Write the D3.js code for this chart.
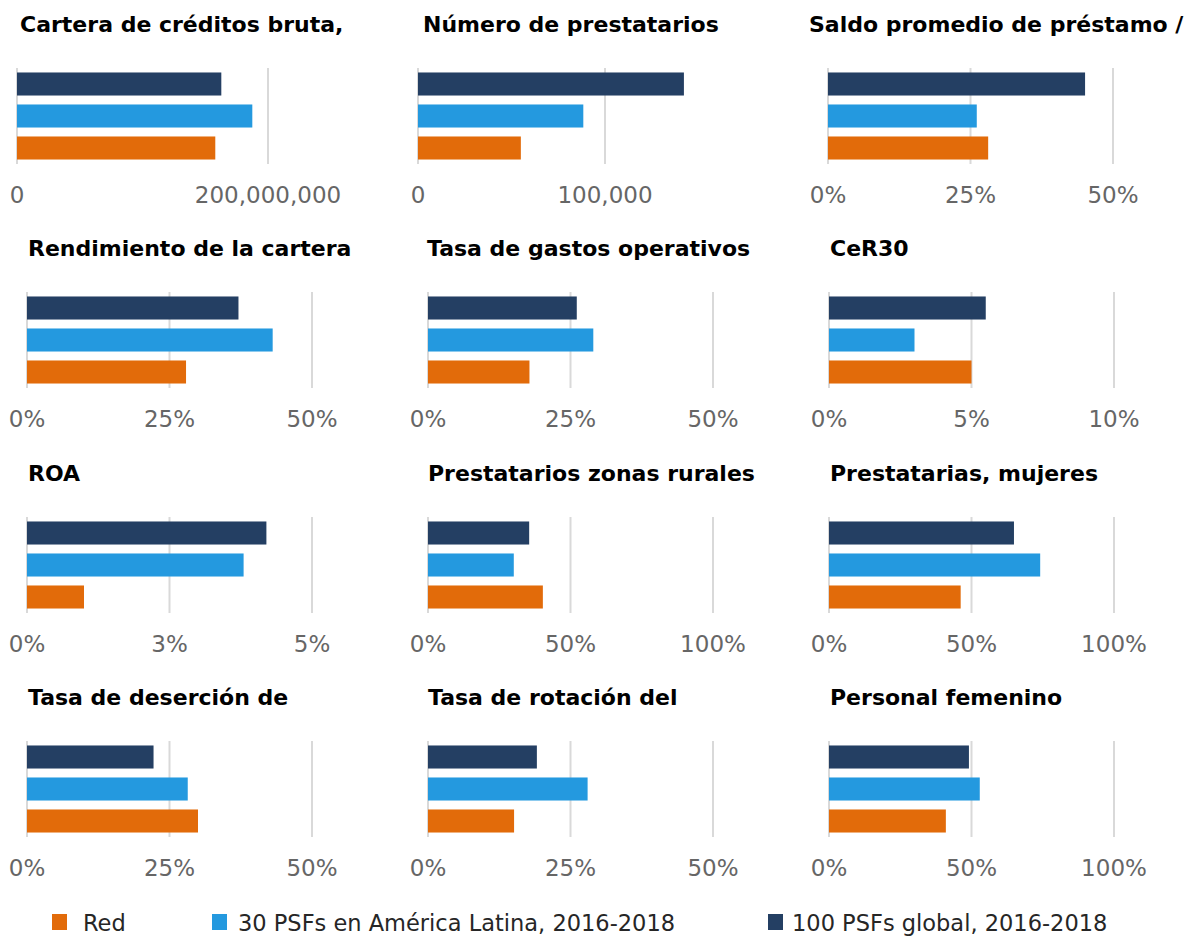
<!DOCTYPE html>
<html>
<head>
<meta charset="utf-8">
<script src="https://d3js.org/d3.v7.min.js"></script>
<style>
  body { margin: 0; background: #fff; }
  svg { display: block; }
</style>
</head>
<body>
<div id="chart"></div>
<script>
    // ---- data ----
    var titles = [
        'Cartera de créditos bruta,', 'Número de prestatarios', 'Saldo promedio de préstamo /',
        'Rendimiento de la cartera', 'Tasa de gastos operativos', 'CeR30',
        'ROA', 'Prestatarios zonas rurales', 'Prestatarias, mujeres',
        'Tasa de deserción de', 'Tasa de rotación del', 'Personal femenino'
    ];
    var seriesNames = ['Red', '30 PSFs en América Latina, 2016-2018', '100 PSFs global, 2016-2018'];

    // one value per panel, same order as titles (percent values in %)
    var redValues    = [158000000, 55000, 28.1, 27.9, 17.8, 5.0, 1.0, 40.3, 46.2, 30.0, 15.1, 41.0];
    var latamValues  = [187500000, 88400, 26.1, 43.1, 29.0, 3.0, 3.8, 30.1, 74.1, 28.2, 28.0, 52.9];
    var globalValues = [162800000, 142200, 45.1, 37.1, 26.1, 5.5, 4.2, 35.5, 64.9, 22.2, 19.1, 49.1];

    var tickValues = [
        [0, 200000000], [0, 100000], [0, 25, 50],
        [0, 25, 50], [0, 25, 50], [0, 5, 10],
        [0, 2.5, 5], [0, 50, 100], [0, 50, 100],
        [0, 25, 50], [0, 25, 50], [0, 50, 100]
    ];
    var tickLabels = [
        ['0', '200,000,000'], ['0', '100,000'], ['0%', '25%', '50%'],
        ['0%', '25%', '50%'], ['0%', '25%', '50%'], ['0%', '5%', '10%'],
        ['0%', '3%', '5%'], ['0%', '50%', '100%'], ['0%', '50%', '100%'],
        ['0%', '25%', '50%'], ['0%', '25%', '50%'], ['0%', '50%', '100%']
    ];

    // ---- layout ----
    var width = 1200, height = 936;
    var colors = ['#e26b0a', '#2499df', '#243f63'];
    var gridColor = '#d9d9d9';
    var barOrder = [2, 1, 0]; // global on top, red at bottom

    var rowTop = [68, 292, 517, 741];
    var plotH = 96;
    var axisX0 = [[17, 418, 828], [27, 428, 829], [27, 428, 829], [27, 428, 829]];
    var axisW  = [[251, 187, 285], [285, 285, 285], [285, 285, 285], [285, 285, 285]];
    var titleX = [[20, 423, 809], [28, 427, 830], [28, 428, 830], [28, 428, 830]];

    var allValues = [redValues, latamValues, globalValues];

    var svg = d3.select('#chart').append('svg')
        .attr('width', width)
        .attr('height', height);

    titles.forEach(function(title, i) {
        var r = Math.floor(i / 3), c = i % 3;
        var ticks = tickValues[i];
        var top = rowTop[r];

        var x = d3.scaleLinear()
            .domain([0, ticks[ticks.length - 1]])
            .range([axisX0[r][c], axisX0[r][c] + axisW[r][c]]);

        var y = d3.scaleBand()
            .domain(barOrder)
            .range([top, top + plotH])
            .paddingInner(0.28)
            .paddingOuter(0.14);

        var g = svg.append('g');

        g.append('text')
            .attr('x', titleX[r][c])
            .attr('y', top - 36)
            .attr('font-family', 'DejaVu Sans, sans-serif')
            .attr('font-weight', 'bold')
            .attr('font-size', 22)
            .attr('fill', '#000')
            .text(title);

        // gridlines
        g.selectAll('line.grid')
            .data(ticks)
            .enter().append('line')
            .attr('class', 'grid')
            .attr('x1', function(d) { return x(d); })
            .attr('x2', function(d) { return x(d); })
            .attr('y1', top)
            .attr('y2', top + plotH)
            .attr('stroke', gridColor)
            .attr('stroke-width', 2);

        // bars
        g.selectAll('rect')
            .data(barOrder)
            .enter().append('rect')
            .attr('x', x(0))
            .attr('y', function(s) { return y(s); })
            .attr('width', function(s) { return x(allValues[s][i]) - x(0); })
            .attr('height', y.bandwidth())
            .attr('fill', function(s) { return colors[s]; });

        // tick labels
        g.selectAll('text.tick')
            .data(ticks)
            .enter().append('text')
            .attr('class', 'tick')
            .attr('x', function(d) { return x(d); })
            .attr('y', top + 135)
            .attr('text-anchor', 'middle')
            .attr('font-family', 'DejaVu Sans, sans-serif')
            .attr('font-size', 23)
            .attr('fill', '#666')
            .text(function(d, k) { return tickLabels[i][k]; });
    });

    // legend
    var legendX = [52, 212, 768];
    var legendTextX = [83, 238, 792];
    var legend = svg.append('g');
    seriesNames.forEach(function(name, s) {
        legend.append('rect')
            .attr('x', legendX[s])
            .attr('y', 914)
            .attr('width', 15)
            .attr('height', 16)
            .attr('fill', colors[s]);
        legend.append('text')
            .attr('x', legendTextX[s])
            .attr('y', 931)
            .attr('font-family', 'DejaVu Sans, sans-serif')
            .attr('font-size', 22.5)
            .attr('fill', '#262626')
            .text(name);
    });
</script>
</body>
</html>
